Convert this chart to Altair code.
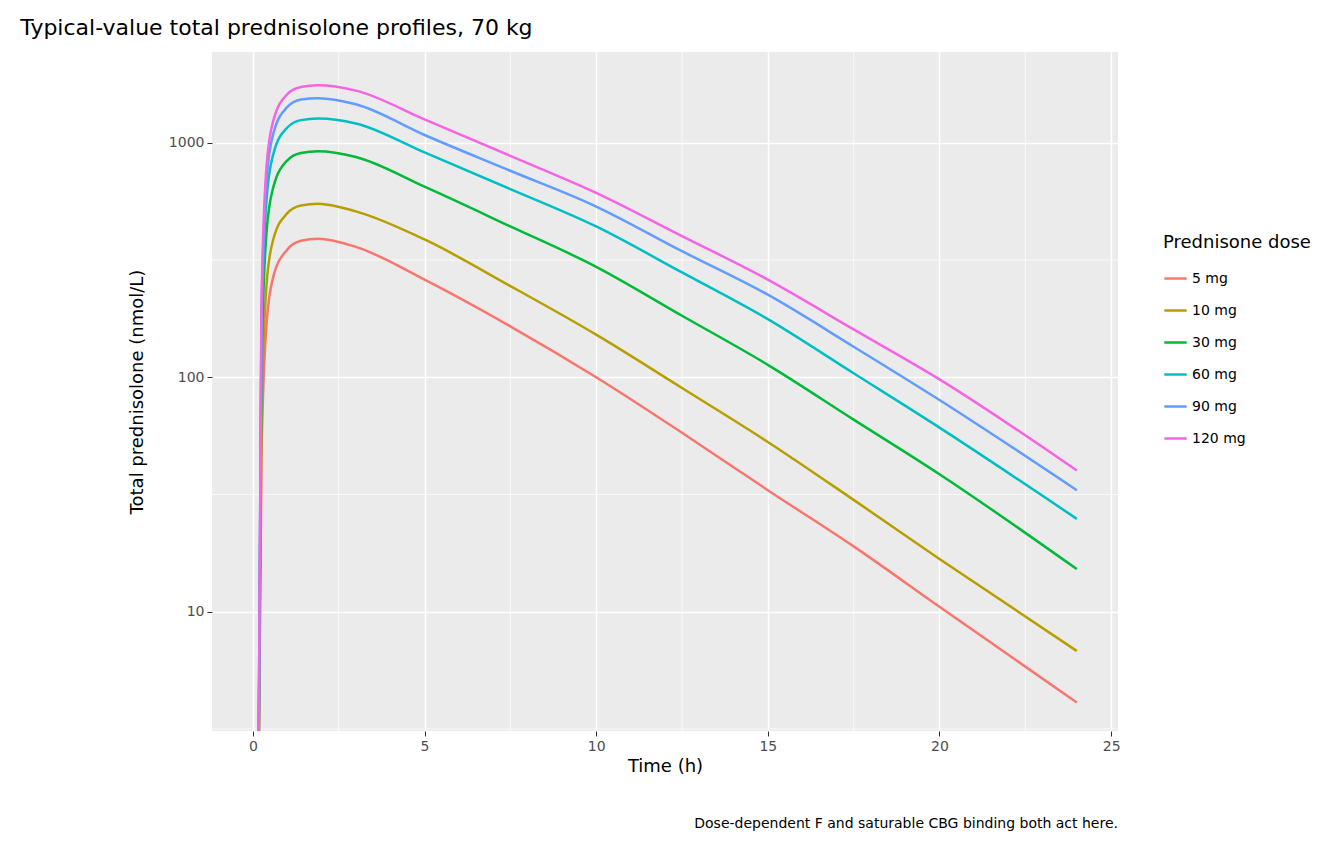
import altair as alt
import pandas as pd

W, H = 906, 679
FONT = "DejaVu Sans"

times = [0.15, 0.25, 0.4, 0.6, 1, 1.4, 1.9, 3, 5, 7.5, 10, 12.5, 15, 17.5, 20, 24]
doses = ["5 mg", "10 mg", "30 mg", "60 mg", "90 mg", "120 mg"]
conc_5 = [1, 45, 170, 270, 350, 382, 390, 360, 261, 165, 100, 58, 33, 19, 10.5, 4.1]
conc_10 = [1, 65, 250, 390, 500, 540, 550, 510, 387, 245, 152, 90, 53, 30, 16.8, 6.8]
conc_30 = [1, 110, 420, 650, 840, 905, 920, 870, 650, 440, 296, 183, 113, 66, 38.6, 15.2]
conc_60 = [1, 150, 580, 900, 1160, 1250, 1270, 1210, 910, 635, 440, 280, 177, 104, 61, 24.9]
conc_90 = [1, 180, 700, 1100, 1420, 1530, 1550, 1460, 1080, 760, 535, 345, 225, 135, 80, 33]
conc_120 = [1, 200, 800, 1250, 1610, 1730, 1760, 1670, 1260, 880, 612, 400, 261, 160, 98, 40]
colors = ["#F8766D", "#B79F00", "#00BA38", "#00BFC4", "#619CFF", "#F564E3"]

x_major = [0, 5, 10, 15, 20, 25]
x_minor = [2.5, 7.5, 12.5, 17.5, 22.5]
y_major = [10, 100, 1000]
y_minor = [3.162, 31.62, 316.2]

series = [conc_5, conc_10, conc_30, conc_60, conc_90, conc_120]
rows = []
for dose, vals in zip(doses, series):
    for t, c in zip(times, vals):
        rows.append({"time": t, "conc": c, "dose": dose})
df = pd.DataFrame(rows)

xs = alt.Scale(domain=[-1.19, 25.2], nice=False, zero=False)
ys = alt.Scale(type="log", domain=[3.1, 2440], nice=False)

minor_x = alt.Chart(pd.DataFrame({"x": x_minor})).mark_rule(color="white", strokeWidth=0.7).encode(
    x=alt.X("x:Q", scale=xs))
minor_y = alt.Chart(pd.DataFrame({"y": y_minor})).mark_rule(color="white", strokeWidth=0.7).encode(
    y=alt.Y("y:Q", scale=ys))

lines = alt.Chart(df).mark_line(strokeWidth=2.5, clip=True, interpolate="monotone").encode(
    x=alt.X("time:Q", scale=xs, title="Time (h)",
            axis=alt.Axis(values=x_major, format="d")),
    y=alt.Y("conc:Q", scale=ys, title="Total prednisolone (nmol/L)",
            axis=alt.Axis(values=y_major, format="d")),
    color=alt.Color("dose:N", sort=doses, scale=alt.Scale(domain=doses, range=colors),
                    legend=alt.Legend(title="Prednisone dose", symbolType="stroke",
                                      symbolStrokeWidth=2.5, symbolSize=500,
                                      orient="none", legendX=W + 45, legendY=182)),
    detail="dose:N",
)

caption = alt.Chart(pd.DataFrame({"t": ["Dose-dependent F and saturable CBG binding both act here."]})).mark_text(
    align="right", baseline="alphabetic", fontSize=14, font=FONT, color="black"
).encode(text="t:N", x=alt.value(W), y=alt.value(H + 97))

chart = (minor_x + minor_y + lines + caption).properties(
    width=W, height=H,
    padding={"left": 12, "top": 8, "right": 10, "bottom": 10},
    title=alt.TitleParams("Typical-value total prednisolone profiles, 70 kg", anchor="start",
                          fontSize=22, font=FONT, fontWeight="normal", offset=12, dx=-108),
).configure_view(fill="#EBEBEB", stroke=None).configure_axis(
    grid=True, gridColor="white", gridWidth=1.5, domain=False,
    tickColor="#333333", tickSize=5, labelColor="#4D4D4D", labelFontSize=14, labelFont=FONT,
    titleFontSize=18, titleFont=FONT, titleFontWeight="normal", titleColor="black", labelPadding=3,
).configure_axisY(titlePadding=22).configure_legend(
    titleFontSize=18, titleFont=FONT, titleFontWeight="normal", labelFontSize=14, labelFont=FONT,
    rowPadding=12, titlePadding=14,
)

chart.save("out.html", embed_options={"renderer": "svg", "actions": False})
